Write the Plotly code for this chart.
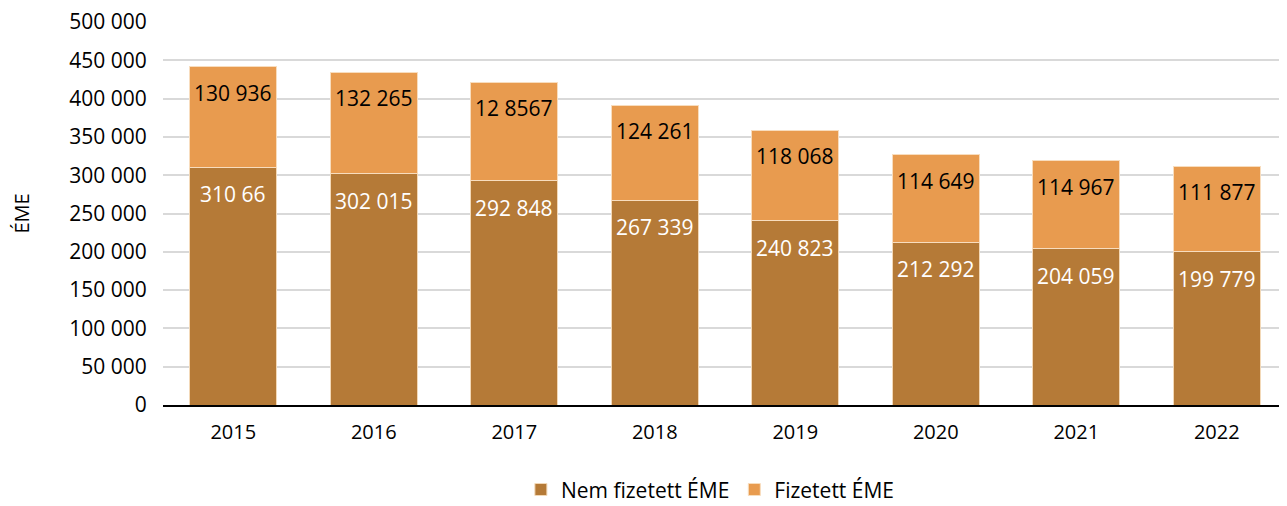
import plotly.graph_objects as go

years = ["2015", "2016", "2017", "2018", "2019", "2020", "2021", "2022"]
nem_fizetett = [310660, 302015, 292848, 267339, 240823, 212292, 204059, 199779]
fizetett = [130936, 132265, 128567, 124261, 118068, 114649, 114967, 111877]
nem_labels = ["310 66", "302 015", "292 848", "267 339", "240 823", "212 292", "204 059", "199 779"]
fiz_labels = ["130 936", "132 265", "12 8567", "124 261", "118 068", "114 649", "114 967", "111 877"]
y_ticks = [0, 50000, 100000, 150000, 200000, 250000, 300000, 350000, 400000, 450000, 500000]

DARK = "#B57A37"
LIGHT = "#E89B4F"
FONT = "Open Sans"

fig = go.Figure()
fig.add_trace(go.Bar(x=years, y=nem_fizetett, name="Nem fizetett ÉME",
                     marker=dict(color=DARK, line=dict(color="#F3D9B8", width=1))))
fig.add_trace(go.Bar(x=years, y=fizetett, name="Fizetett ÉME",
                     marker=dict(color=LIGHT, line=dict(color="#F8DDBE", width=1))))

annotations = []
for i, (n, f, nl, fl) in enumerate(zip(nem_fizetett, fizetett, nem_labels, fiz_labels)):
    annotations.append(dict(x=i, y=n, text=nl, showarrow=False, yanchor="top", yshift=-11,
                            font=dict(family=FONT, size=21, color="white")))
    annotations.append(dict(x=i, y=n + f, text=fl, showarrow=False, yanchor="top", yshift=-10,
                            font=dict(family=FONT, size=21, color="black")))

fig.update_layout(
    barmode="stack",
    bargap=0.38,
    width=1279, height=498,
    margin=dict(l=155, r=0, t=14, b=101, autoexpand=False),
    plot_bgcolor="white", paper_bgcolor="white",
    separators=", ",
    font=dict(family=FONT, size=20, color="black"),
    annotations=annotations,
    showlegend=True,
    legend=dict(orientation="h", x=0.487, xanchor="center", y=-0.168, yanchor="top",
                font=dict(family=FONT, size=21), traceorder="normal"),
    yaxis=dict(range=[0, 500000], tickvals=y_ticks, tickformat=",d",
               showgrid=True, gridcolor="#D9D9D9", gridwidth=1.5,
               zeroline=False, ticks="outside", ticklen=11, tickcolor="white",
               tickfont=dict(family=FONT, size=21), automargin=False,
               ticklabeloverflow="allow",
               title=dict(text="ÉME", font=dict(family=FONT, size=20), standoff=60)),
    xaxis=dict(type="category", showline=True, linecolor="black", linewidth=2,
               range=[-0.5, len(years) - 0.5], automargin=False,
               ticks="outside", ticklen=8, tickcolor="white",
               tickfont=dict(family=FONT, size=20)),
)
fig.write_html("out.html")
